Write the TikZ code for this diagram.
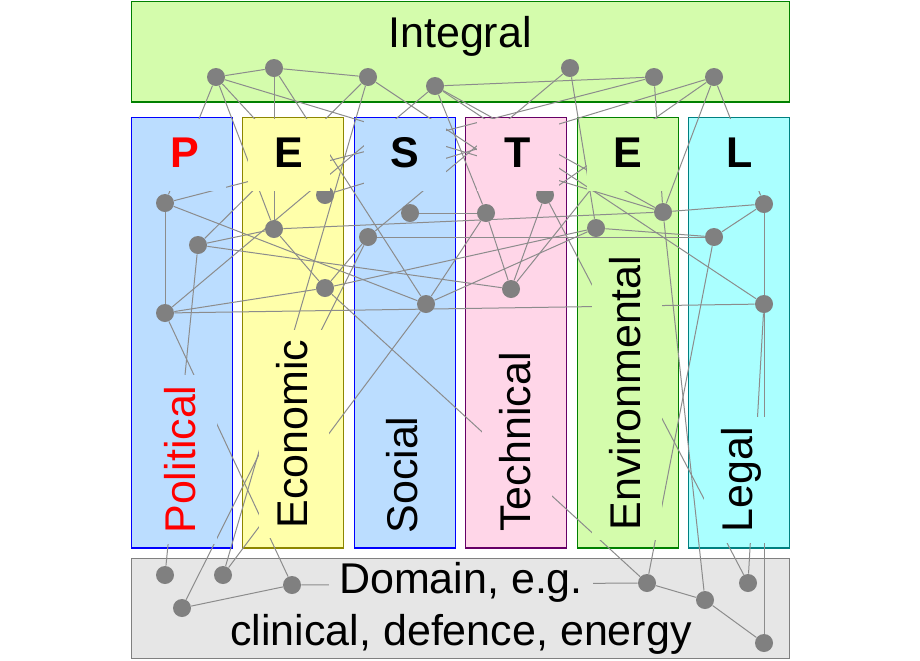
\documentclass[tikz,border=0pt]{standalone}
\usepackage{fontspec}
\setmainfont{Liberation Sans}
\usepackage{tikz}

\definecolor{integfill}{RGB}{212,252,172}
\definecolor{polfill}{RGB}{187,221,255}
\definecolor{ecofill}{RGB}{255,255,170}
\definecolor{tecfill}{RGB}{255,214,232}
\definecolor{legfill}{RGB}{170,255,255}
\definecolor{domfill}{RGB}{230,230,230}
\definecolor{dotgray}{RGB}{128,128,128}
\definecolor{linegray}{RGB}{140,140,140}

\pgfdeclarelayer{bg}
\pgfdeclarelayer{edges}
\pgfdeclarelayer{front}
\pgfsetlayers{bg,edges,main,front}

\begin{document}
\begin{tikzpicture}[x=0.5pt, y=-0.5pt,
		vertex/.style={circle, fill=dotgray, inner sep=0pt, minimum size=9pt},
		link/.style={draw=linegray, line width=0.5pt},
		panel/.style={line width=0.6pt},
		letter/.style={anchor=base, inner sep=0pt, minimum width=41pt, text height=24pt, text depth=11.75pt, font=\bfseries\fontsize{21.5}{26}\selectfont},
		vlabel/.style={rotate=90, anchor=base, inner xsep=5pt, inner ysep=0pt, text height=24pt, text depth=11pt, font=\fontsize{21.5}{26}\selectfont},
		domtext/.style={anchor=base, inner xsep=5pt, inner ysep=0pt, text height=17pt, text depth=5pt, fill=domfill, font=\fontsize{21.5}{26}\selectfont}
		]
	\useasboundingbox (0,0) rectangle (920,660);

	% --- Cadres ---
	\begin{pgfonlayer}{bg}
		\draw[panel, fill=integfill, draw=green!50!black] (131.5,1.5) rectangle (789.5,102);
		\draw[panel, fill=polfill, draw=blue] (131.5,117.5) rectangle (232.5,548);
		\draw[panel, fill=ecofill, draw=olive] (242.5,117.5) rectangle (343.5,548);
		\draw[panel, fill=polfill, draw=blue] (354.5,117.5) rectangle (455.5,548);
		\draw[panel, fill=tecfill, draw=violet!80!black] (465.5,117.5) rectangle (566.5,548);
		\draw[panel, fill=integfill, draw=green!50!black] (577.5,117.5) rectangle (678.5,548);
		\draw[panel, fill=legfill, draw=teal] (688.5,117.5) rectangle (789.5,548);
		\draw[panel, fill=domfill, draw=gray] (131.5,558.5) rectangle (789.5,658.5);
	\end{pgfonlayer}

	\node[anchor=base, font=\fontsize{21.5}{26}\selectfont] (integ) at (460,47) {Integral};

	% --- Points ---
	\node[vertex] (i1) at (216,77) {};
	\node[vertex] (i2) at (274,68) {};
	\node[vertex] (i3) at (368,77) {};
	\node[vertex] (i4) at (435,86) {};
	\node[vertex] (i5) at (570,68) {};
	\node[vertex] (i6) at (654,77) {};
	\node[vertex] (i7) at (714,77) {};

	\node[vertex] (p1) at (165,203) {};
	\node[vertex] (p2) at (198,245) {};
	\node[vertex] (p3) at (165,313) {};
	\node[vertex] (e1) at (274,229) {};
	\node[vertex] (e2) at (325,195) {};
	\node[vertex] (e3) at (325,288) {};
	\node[vertex] (s1) at (410,213) {};
	\node[vertex] (s2) at (368,237) {};
	\node[vertex] (s3) at (426,304) {};
	\node[vertex] (t1) at (486,213) {};
	\node[vertex] (t2) at (545,195) {};
	\node[vertex] (t3) at (511,289) {};
	\node[vertex] (v1) at (596,228) {};
	\node[vertex] (v2) at (663,212) {};
	\node[vertex] (l1) at (764,204) {};
	\node[vertex] (l2) at (714,237) {};
	\node[vertex] (l3) at (764,304) {};

	\node[vertex] (d1) at (165,575) {};
	\node[vertex] (d2) at (223,575) {};
	\node[vertex] (d3) at (292,585) {};
	\node[vertex] (d4) at (182,608) {};
	\node[vertex] (d5) at (647,583) {};
	\node[vertex] (d6) at (705,600) {};
	\node[vertex] (d7) at (748,583) {};
	\node[vertex] (d8) at (764,643) {};

	\coordinate (t3end) at (600,178);

	% --- Liens ---
	\begin{pgfonlayer}{edges}
		\draw[link] (i1) -- (i2);
		\draw[link] (i2) -- (i3);
		\draw[link] (i4) -- (i6);
		\draw[link] (i1) -- (p1);
		\draw[link] (i1) -- (e1);
		\draw[link] (i1) -- (e2);
		\draw[link] (i1) -- (v2);
		\draw[link] (i2) -- (e1);
		\draw[link] (i2) -- (s3);
		\draw[link] (i3) -- (t2);
		\draw[link] (i3) -- (d2);
		\draw[link] (i3) -- (p2);
		\draw[link] (i4) -- (p3);
		\draw[link] (i4) -- (t1);
		\draw[link] (i4) -- (v2);
		\draw[link] (i4) -- (l3);
		\draw[link] (i5) -- (s2);
		\draw[link] (i5) -- (v1);
		\draw[link] (i6) -- (v2);
		\draw[link] (i6) -- (p1);
		\draw[link] (i7) -- (v2);
		\draw[link] (i7) -- (t2);
		\draw[link] (i7) -- (l1);
		\draw[link] (i7) -- (e2);

		\draw[link] (p1) -- (p3);
		\draw[link] (p1) -- (s3);
		\draw[link] (p2) -- (e1);
		\draw[link] (p2) -- (t3);
		\draw[link] (p2) -- (d1);
		\draw[link] (p3) -- (e3);
		\draw[link] (p3) -- (l3);
		\draw[link] (p3) -- (d3);
		\draw[link] (e1) -- (e3);
		\draw[link] (e1) -- (v2);
		\draw[link] (e3) -- (s2);
		\draw[link] (e3) -- (v1);
		\draw[link] (e3) -- (d5);
		\draw[link] (s1) -- (t1);
		\draw[link] (s2) -- (l2);
		\draw[link] (s2) -- (d4);
		\draw[link] (s3) -- (t1);
		\draw[link] (s3) -- (v1);
		\draw[link] (s3) -- (d2);
		\draw[link] (t1) -- (t3);
		\draw[link] (t2) -- (t3);
		\draw[link] (t2) -- (d7);
		\draw[link] (t3) -- (t3end);
		\draw[link] (v1) -- (l2);
		\draw[link] (v2) -- (l1);
		\draw[link] (v2) -- (d6);
		\draw[link] (l1) -- (l2);
		\draw[link] (l1) -- (l3);
		\draw[link] (l2) -- (d5);
		\draw[link] (l3) -- (d7);
		\draw[link] (l3) -- (d8);

		\draw[link] (d3) -- (d4);
		\draw[link] (d3) -- (d5);
		\draw[link] (d5) -- (d6);
		\draw[link] (d6) -- (d8);
	\end{pgfonlayer}

	% --- Textes (fond opaque) ---
	\begin{pgfonlayer}{front}
		\node[letter, fill=polfill, text=red] (lP) at (185,167) {P};
		\node[letter, fill=ecofill] (lE) at (289,167) {E};
		\node[letter, fill=polfill] (lS) at (405,167) {S};
		\node[letter, fill=tecfill] (lT) at (518,167) {T};
		\node[letter, fill=integfill] (lV) at (628,167) {E};
		\node[letter, fill=legfill] (lL) at (740,167) {L};

		\node[vlabel, fill=polfill, text=red] (pol) at (195,459.5) {Political};
		\node[vlabel, fill=ecofill] (eco) at (307,434) {Economic};
		\node[vlabel, fill=polfill] (soc) at (417,475) {Social};
		\node[vlabel, fill=tecfill] (tec) at (530,442) {Technical};
		\node[vlabel, fill=integfill] (env) at (640,393) {Environmental};
		\node[vlabel, fill=legfill] (leg) at (752,480) {Legal};

		\node[domtext] (dom) at (461,593) {Domain, e.g.};
		\node[domtext] (ex) at (461,645) {clinical, defence, energy};
	\end{pgfonlayer}

\end{tikzpicture}
\end{document}
